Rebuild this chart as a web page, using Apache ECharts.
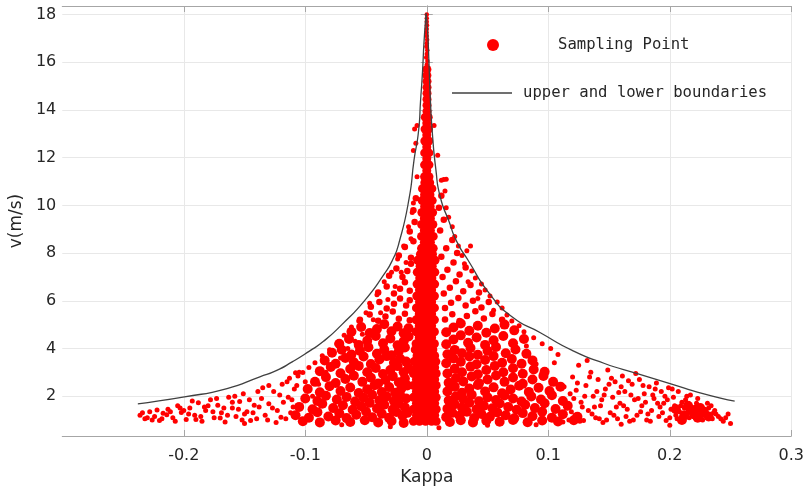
<!DOCTYPE html>
<html>
<head>
<meta charset="utf-8">
<script src="https://cdn.jsdelivr.net/npm/echarts@6/dist/echarts.min.js"></script>
<style>
  html, body { margin: 0; padding: 0; background: #fff; }
  #chart { width: 807px; height: 491px; }
</style>
</head>
<body>
<div id="chart"></div>
<script>
// tick labels
const xTicks = [-0.2, -0.1, 0, 0.1, 0.2, 0.3];
const yTicks = [2, 4, 6, 8, 10, 12, 14, 16, 18];

// boundary curves [kappa, v]
const leftBound = [[-0.2378,1.68],[-0.1994,1.97],[-0.1644,2.32],[-0.1374,2.81],[-0.1239,3.07],[-0.1104,3.45],
  [-0.0969,3.88],[-0.085,4.3],[-0.0699,5.0],[-0.051,6.02],[-0.0348,7.14],[-0.0281,7.72],[-0.023,8.4],
  [-0.0145,10.3],[-0.0105,11.9],[-0.0068,13.1],[-0.0051,14.4],[-0.0035,15.6],[-0.0022,16.9],[-0.0005,18.05]];
const rightBound = [[0.2534,1.79],[0.2273,2.11],[0.2002,2.53],[0.1733,2.95],[0.1463,3.37],[0.1193,3.93],
  [0.0935,4.66],[0.0704,5.32],[0.0516,6.3],[0.034,7.7],[0.0245,8.5],[0.0185,9.3],[0.0111,10.35],
  [0.0075,11.5],[0.0045,13.1],[0.003,14.4],[0.0018,16.0],[0.0008,17.2],[-0.0005,18.05]];

// solid central band of sampling points
const corePoints = [
  [-0.011,0.95],[-0.006,0.95],[-0.001,0.95],[0.004,0.95],[0.0078,0.95],
  [-0.0085,1.2],[-0.0035,1.2],[0.0015,1.2],[0.0065,1.2],
  [-0.011,1.45],[-0.006,1.45],[-0.001,1.45],[0.004,1.45],[0.0078,1.45],
  [-0.0085,1.7],[-0.0035,1.7],[0.0015,1.7],[0.0065,1.7],
  [-0.011,1.95],[-0.006,1.95],[-0.001,1.95],[0.004,1.95],[0.0078,1.95],
  [-0.0085,2.2],[-0.0035,2.2],[0.0015,2.2],[0.0065,2.2],
  [-0.011,2.45],[-0.006,2.45],[-0.001,2.45],[0.004,2.45],[0.0078,2.45],
  [-0.0085,2.7],[-0.0035,2.7],[0.0015,2.7],[0.0065,2.7],
  [-0.011,2.95],[-0.006,2.95],[-0.001,2.95],[0.004,2.95],[0.0078,2.95],
  [-0.0085,3.2],[-0.0035,3.2],[0.0015,3.2],[0.0065,3.2],
  [-0.0105,3.45],[-0.0055,3.45],[-0.0005,3.45],[0.0045,3.45],[0.0075,3.45],
  [-0.008,3.7],[-0.003,3.7],[0.002,3.7],[0.0065,3.7],
  [-0.0095,3.95],[-0.0045,3.95],[0.0005,3.95],[0.005,3.95],
  [-0.0088,4.2],[-0.0035,4.2],[0.0015,4.2],[0.0063,4.2],
  [-0.0062,4.45],[-0.001,4.45],[0.004,4.45],
  [-0.0088,4.7],[-0.0035,4.7],[0.0015,4.7],[0.0063,4.7],
  [-0.0062,4.95],[-0.001,4.95],[0.004,4.95],
  [-0.0088,5.2],[-0.0035,5.2],[0.0015,5.2],[0.0063,5.2],
  [-0.0062,5.45],[-0.001,5.45],[0.004,5.45],
  [-0.0085,5.7],[-0.0035,5.7],[0.0015,5.7],[0.0063,5.7],
  [-0.006,5.95],[-0.001,5.95],[0.004,5.95],
  [-0.0082,6.2],[-0.0032,6.2],[0.0017,6.2],[0.0063,6.2],
  [-0.006,6.45],[-0.001,6.45],[0.004,6.45],
  [-0.008,6.7],[-0.003,6.7],[0.002,6.7],[0.0065,6.7],
  [-0.0058,6.95],[-0.0008,6.95],[0.0042,6.95],
  [-0.0078,7.2],[-0.0028,7.2],[0.002,7.2],[0.0066,7.2],
  [-0.0055,7.45],[-0.0005,7.45],[0.0045,7.45],
  [-0.0075,7.7],[-0.0025,7.7],[0.0022,7.7],[0.0068,7.7],
  [-0.0052,7.95],[-0.0002,7.95],[0.0047,7.95],
  [-0.0043,8.2],[0.0005,8.2],[0.0053,8.2],
  [-0.002,8.45],[0.003,8.45],
  [-0.0043,8.7],[0.0005,8.7],[0.0053,8.7],
  [-0.002,8.95],[0.003,8.95],
  [-0.0042,9.2],[0.0005,9.2],[0.005,9.2],
  [-0.002,9.45],[0.003,9.45],
  [-0.004,9.7],[0.0005,9.7],[0.0048,9.7],
  [-0.0018,9.95],[0.0028,9.95],
  [-0.0038,10.2],[0.0005,10.2],[0.0045,10.2],
  [-0.0018,10.45],[0.0026,10.45],
  [-0.0035,10.7],[0.0005,10.7],[0.0042,10.7],
  [-0.0016,10.95],[0.0024,10.95],
  [-0.0018,11.2],[0.0018,11.2],[0,11.45],[-0.0018,11.7],[0.0018,11.7],[0,11.95],
  [-0.0017,12.2],[0.0017,12.2],[0,12.45],[-0.0016,12.7],[0.0016,12.7],[0,12.95],
  [-0.0014,13.2],[0.0014,13.2],[0,13.45],[-0.0012,13.7],[0.0012,13.7],
  [0.0002,13.95],[0.0002,14.2],[0.0002,14.45],[0.0002,14.7],[0.0002,14.95],
  [0.0002,15.2],[0.0001,15.45],[0.0001,15.7]
];

// thin top of the band
const tipPoints = [
  [0,15.9],[0.0005,16.05],[-0.0005,16.2],[0,16.35],[0.0004,16.5],[-0.0003,16.65],[0,16.8],[0.0003,16.95],
  [0,17.1],[-0.0002,17.25],[0,17.4],[0.0002,17.55],[0,17.7],[0,17.85],[0,18.0]
];

// dense cloud around the band, low speeds
const denseLowPoints = [
  [-0.102,0.95],[-0.088,0.9],[-0.075,0.98],[-0.063,0.92],[-0.051,0.99],[-0.04,0.9],[-0.029,0.96],[-0.019,0.88],
  [0.019,0.92],[0.028,0.99],[0.038,0.9],[0.049,0.97],[0.06,0.93],[0.071,1.0],[0.083,0.91],[0.095,0.98],[0.108,0.94],[0.121,0.99],
  [-0.108,1.2],[-0.097,1.1],[-0.09,1.33],[-0.081,1.15],[-0.072,1.28],[-0.066,1.08],[-0.058,1.22],[-0.05,1.36],
  [-0.045,1.12],[-0.037,1.26],[-0.031,1.09],[-0.025,1.34],[-0.02,1.18],[-0.016,1.3],
  [0.016,1.12],[0.021,1.3],[0.027,1.18],[0.033,1.35],[0.039,1.08],[0.045,1.25],[0.052,1.14],[0.058,1.32],
  [0.065,1.2],[0.072,1.07],[0.079,1.29],[0.087,1.16],[0.095,1.35],[0.103,1.1],[0.112,1.24],[0.124,1.14],
  [-0.105,1.55],[-0.094,1.45],[-0.086,1.68],[-0.077,1.5],[-0.069,1.62],[-0.061,1.43],[-0.054,1.58],
  [-0.047,1.72],[-0.041,1.48],[-0.035,1.64],[-0.028,1.44],[-0.023,1.7],[-0.018,1.53],
  [0.017,1.47],[0.023,1.66],[0.029,1.52],[0.035,1.72],[0.041,1.45],[0.047,1.6],[0.054,1.49],[0.06,1.69],
  [0.067,1.55],[0.074,1.43],[0.081,1.64],[0.089,1.5],[0.097,1.7],[0.106,1.46],[0.116,1.6],
  [-0.1,1.9],[-0.09,1.8],[-0.083,2.02],[-0.074,1.86],[-0.066,1.97],[-0.059,1.78],[-0.052,1.93],
  [-0.045,2.06],[-0.039,1.83],[-0.033,1.99],[-0.027,1.79],[-0.022,2.05],[-0.017,1.9],
  [0.018,1.82],[0.024,2.0],[0.03,1.88],[0.037,2.06],[0.043,1.79],[0.05,1.95],[0.057,1.84],[0.064,2.03],
  [0.071,1.9],[0.078,1.78],[0.086,1.99],[0.094,1.86],[0.103,2.04],[0.112,1.8],
  [-0.098,2.3],[-0.088,2.16],[-0.08,2.42],[-0.071,2.22],[-0.063,2.36],[-0.056,2.13],[-0.049,2.29],
  [-0.043,2.46],[-0.037,2.18],[-0.031,2.38],[-0.026,2.14],[-0.021,2.31],[-0.016,2.45],
  [0.017,2.2],[0.023,2.4],[0.029,2.14],[0.035,2.32],[0.042,2.47],[0.048,2.2],[0.055,2.37],[0.062,2.12],
  [0.069,2.28],[0.076,2.44],[0.084,2.18],[0.092,2.35],[0.101,2.22],[0.11,2.4],
  [-0.092,2.6],[-0.083,2.8],[-0.075,2.55],[-0.067,2.72],[-0.06,2.86],[-0.053,2.6],[-0.046,2.77],
  [-0.04,2.53],[-0.034,2.68],[-0.028,2.84],[-0.023,2.58],[-0.018,2.74],
  [0.018,2.56],[0.024,2.76],[0.03,2.62],[0.037,2.83],[0.043,2.54],[0.05,2.7],[0.057,2.87],[0.064,2.6],
  [0.071,2.78],[0.079,2.52],[0.087,2.7],[0.096,2.85],[0.104,2.6],
  [-0.088,3.05],[-0.079,3.22],[-0.071,2.96],[-0.063,3.14],[-0.056,3.27],[-0.049,3.0],[-0.042,3.18],
  [-0.036,2.93],[-0.03,3.1],[-0.024,3.26],[-0.019,3.0],[-0.015,3.16],
  [0.017,2.95],[0.023,3.15],[0.029,3.0],[0.036,3.24],[0.042,2.92],[0.049,3.1],[0.056,3.27],[0.063,3.0],
  [0.071,3.17],[0.079,2.94],[0.088,3.12],[0.097,3.02],
  [-0.084,3.5],[-0.075,3.36],[-0.067,3.6],[-0.06,3.42],[-0.052,3.66],[-0.046,3.35],[-0.039,3.54],
  [-0.033,3.68],[-0.027,3.4],[-0.022,3.58],[-0.017,3.45],
  [0.016,3.38],[0.022,3.58],[0.028,3.44],[0.035,3.66],[0.041,3.34],[0.048,3.52],[0.055,3.68],[0.062,3.4],
  [0.07,3.56],[0.078,3.36],[0.087,3.5],
  [-0.078,3.82],[-0.07,3.95],[-0.062,3.75],[-0.055,3.9],[-0.048,4.05],[-0.041,3.78],[-0.035,3.96],
  [-0.029,3.72],[-0.023,3.88],[-0.018,4.04],
  [0.017,3.76],[0.023,3.94],[0.029,3.8],[0.036,4.02],[0.042,3.74],[0.05,3.9],[0.057,4.06],[0.065,3.8],
  [0.073,3.96],[0.082,3.78],
  [-0.072,4.2],[-0.064,4.4],[-0.056,4.15],[-0.049,4.32],[-0.042,4.52],[-0.036,4.22],[-0.03,4.42],
  [-0.024,4.14],[-0.019,4.3],[-0.015,4.5],
  [0.016,4.18],[0.022,4.38],[0.028,4.55],[0.034,4.24],[0.041,4.46],[0.048,4.15],[0.055,4.34],[0.063,4.52],
  [0.071,4.22],[0.08,4.4],
  [-0.062,4.7],[-0.054,4.9],[-0.047,4.65],[-0.041,4.82],[-0.035,5.02],[-0.029,4.72],[-0.024,4.92],
  [-0.019,4.64],[-0.015,4.85],
  [0.016,4.68],[0.022,4.88],[0.028,5.05],[0.035,4.74],[0.042,4.95],[0.049,4.66],[0.056,4.84],[0.064,5.0],[0.072,4.76],
  [0.205,1.45],[0.212,1.2],[0.218,1.4],[0.223,1.1],[0.228,1.3],[0.215,1.6],[0.225,1.5],[0.232,1.15],[0.21,1.0],[0.22,1.25]
];

// thinner cloud around the band, higher speeds
const denseHighPoints = [
  [-0.055,5.2],[-0.047,5.42],[-0.04,5.16],[-0.034,5.34],[-0.028,5.55],[-0.023,5.25],[-0.018,5.46],[-0.014,5.18],
  [0.015,5.22],[0.021,5.44],[0.027,5.15],[0.033,5.36],[0.04,5.56],[0.047,5.26],[0.054,5.45],[0.062,5.2],
  [-0.046,5.75],[-0.039,5.95],[-0.033,5.68],[-0.027,5.88],[-0.022,6.1],[-0.017,5.8],[-0.014,6.02],
  [0.015,5.7],[0.02,5.92],[0.026,6.12],[0.032,5.8],[0.038,6.0],[0.045,5.72],[0.051,5.95],
  [-0.04,6.35],[-0.033,6.6],[-0.027,6.3],[-0.022,6.5],[-0.018,6.78],[-0.014,6.42],
  [0.014,6.3],[0.019,6.55],[0.024,6.82],[0.03,6.4],[0.036,6.66],[0.043,6.35],
  [-0.031,7.05],[-0.025,7.35],[-0.02,7.0],[-0.016,7.25],[-0.013,7.55],
  [0.013,7.0],[0.017,7.3],[0.022,7.6],[0.027,7.1],[0.032,7.4],
  [-0.023,7.9],[-0.018,8.25],[-0.013,7.8],[-0.011,8.5],
  [0.012,7.85],[0.016,8.2],[0.021,8.55],[0.025,8.0],
  [-0.014,8.9],[-0.01,9.3],[-0.011,9.8],[-0.009,10.3],
  [0.011,8.95],[0.014,9.4],[0.01,9.9],[0.012,10.4]
];

// scattered points in the wings and near the boundaries
const sparsePoints = [
  [-0.236,1.2],[-0.232,1.05],[-0.228,1.35],[-0.224,1.15],[-0.22,0.98],[-0.217,1.28],[-0.213,1.45],[-0.209,1.1],
  [-0.205,1.6],[-0.202,1.32],[-0.198,1.02],[-0.195,1.5],[-0.191,1.2],[-0.188,1.72],[-0.185,0.95],[-0.182,1.4],
  [-0.178,1.85],[-0.175,1.1],[-0.172,1.62],[-0.169,1.3],[-0.166,0.92],[-0.163,1.95],[-0.16,1.5],[-0.157,1.15],
  [-0.154,1.78],[-0.151,2.1],[-0.148,1.35],[-0.145,0.98],[-0.142,1.62],[-0.139,2.2],[-0.136,1.9],[-0.133,1.2],
  [-0.13,2.45],[-0.127,1.5],[-0.124,0.9],[-0.121,2.05],[-0.118,1.75],[-0.115,2.6],[-0.112,1.3],[-0.109,2.3],
  [-0.106,2.85],[-0.103,1.02],[-0.1,2.6],[-0.108,2.98],[-0.105,3.0],[-0.102,2.99],
  [-0.226,1.0],[-0.214,1.22],[-0.2,1.4],[-0.19,1.02],[-0.18,1.6],[-0.17,1.08],[-0.16,1.75],[-0.15,1.25],
  [-0.14,1.05],[-0.13,1.68],[-0.12,1.12],[-0.114,1.95],[-0.11,1.55],
  [-0.234,1.3],[-0.23,1.1],[-0.222,1.42],[-0.218,1.05],[-0.211,1.35],[-0.207,0.95],[-0.203,1.5],[-0.196,1.25],
  [-0.193,1.8],[-0.186,1.15],[-0.183,1.55],[-0.176,1.35],[-0.173,1.9],[-0.167,1.5],[-0.164,1.2],[-0.158,2.0],
  [-0.155,1.45],[-0.152,1.0],[-0.146,1.85],[-0.143,1.3],[-0.138,1.55],[-0.135,2.35],[-0.131,1.0],[-0.126,2.2],
  [-0.123,1.4],[-0.119,2.5],[-0.116,1.05],[-0.113,2.75],[-0.111,1.85],[-0.107,2.45],
  [-0.097,3.2],[-0.094,2.0],[-0.092,3.4],[-0.089,2.5],[-0.086,3.7],[-0.083,3.0],[-0.08,3.95],[-0.077,3.3],
  [-0.074,4.2],[-0.071,3.6],[-0.068,4.55],[-0.065,4.0],[-0.062,4.9],[-0.059,4.3],[-0.056,5.15],[-0.053,4.6],
  [-0.05,5.5],[-0.047,5.9],[-0.044,5.2],[-0.041,6.25],[-0.038,5.5],[-0.035,6.8],[-0.032,6.05],[-0.029,7.2],
  [-0.026,6.6],[-0.024,7.75],[-0.021,7.2],[-0.019,8.3],[-0.017,7.6],[-0.015,9.1],[-0.013,8.6],[-0.012,9.7],
  [-0.011,10.1],[-0.011,12.3],[-0.009,12.6],[-0.01,13.2],[-0.008,13.35],[-0.008,11.2],
  [0.112,0.92],[0.115,1.5],[0.118,2.1],[0.12,2.8],[0.122,1.2],[0.125,3.3],[0.127,1.75],[0.129,0.98],
  [0.131,2.45],[0.133,1.4],[0.135,3.0],[0.137,2.0],[0.139,1.1],[0.141,2.7],[0.143,1.6],[0.145,0.9],
  [0.147,2.3],[0.149,3.1],[0.151,1.3],[0.153,1.95],[0.155,2.6],[0.157,1.05],[0.159,1.7],[0.161,2.85],
  [0.163,2.2],[0.165,1.45],[0.167,0.95],[0.169,2.5],[0.171,1.85],[0.173,1.2],[0.175,2.7],[0.177,1.6],
  [0.179,2.1],[0.181,1.0],[0.183,2.4],[0.185,1.4],[0.187,1.9],[0.189,2.55],[0.191,1.15],[0.193,2.2],
  [0.195,1.7],[0.197,0.98],[0.199,2.35],[0.201,1.45],[0.203,1.95],[0.205,1.2],[0.207,2.2],[0.209,1.6],
  [0.211,1.05],[0.213,1.85],[0.215,1.35],[0.217,2.05],[0.219,1.15],[0.221,1.55],[0.223,1.9],[0.225,1.25],
  [0.227,1.0],[0.229,1.45],[0.231,1.7],[0.233,1.2],[0.235,1.05],[0.237,1.4],[0.24,1.15],[0.244,0.95],[0.248,1.25],
  [0.113,2.4],[0.117,1.0],[0.121,1.9],[0.124,2.55],[0.128,1.55],[0.132,3.5],[0.136,1.25],[0.14,2.2],
  [0.144,1.85],[0.148,1.0],[0.152,2.75],[0.156,1.55],[0.16,2.4],[0.164,1.15],[0.168,2.05],[0.172,2.95],
  [0.176,1.35],[0.18,1.75],[0.184,0.95],[0.188,2.3],[0.192,1.55],[0.196,2.0],[0.2,1.1],[0.204,1.6],
  [0.208,1.35],[0.212,1.5],[0.216,1.1],[0.22,1.3],[0.224,1.45],[0.228,1.3],[0.232,1.5],[0.236,1.3],
  [0.114,1.75],[0.119,1.35],[0.123,2.25],[0.126,0.95],[0.13,2.0],[0.134,2.8],[0.138,1.55],[0.142,1.05],
  [0.146,2.05],[0.15,2.5],[0.154,1.2],[0.158,2.15],[0.162,1.6],[0.166,2.65],[0.17,1.0],[0.174,1.9],
  [0.178,2.45],[0.182,1.25],[0.186,2.05],[0.19,1.7],[0.194,1.3],[0.198,1.85],[0.202,2.3],[0.206,1.05],
  [0.21,1.75],[0.214,2.0],[0.218,1.55],[0.222,1.7],[0.226,1.15],[0.23,1.35],[0.234,1.6],[0.238,1.25],
  [0.242,1.05],[0.246,1.1],
  [0.105,3.4],[0.108,3.75],[0.102,4.0],[0.095,4.2],[0.09,3.35],[0.088,4.45],[0.082,4.1],[0.08,4.7],
  [0.076,4.95],[0.07,5.15],[0.066,5.4],[0.062,5.7],[0.058,5.95],[0.055,5.6],[0.052,6.2],[0.048,6.45],
  [0.045,6.7],[0.042,6.1],[0.04,6.95],[0.037,7.25],[0.034,6.8],[0.031,7.55],[0.029,7.9],[0.026,8.3],
  [0.023,8.7],[0.021,9.1],[0.018,9.5],[0.016,9.9],[0.015,10.6],[0.012,11.05],[0.014,11.08],[0.016,11.1],
  [0.033,8.1],[0.036,8.3],[0.009,12.1],[0.006,13.35],
  [-0.03,0.72],[0.01,0.68],[0.05,0.78],[0.09,0.8],[0.16,0.82],[0.2,0.78],[0.25,0.85],[-0.07,0.8],[-0.15,0.85]
];

const chart = echarts.init(document.getElementById('chart'), null, { renderer: 'canvas' });

const axisLineStyle = { color: '#a6a6a6', width: 1 };
const labelStyle = { fontFamily: 'DejaVu Sans', fontSize: 16, color: '#262626' };
const dotStyle = { color: '#ff0000', opacity: 1 };
const boundStyle = { color: '#404040', width: 1.3 };

chart.setOption({
  animation: false,
  backgroundColor: '#fff',
  grid: { left: 53, right: 14, top: 6, bottom: 55 },
  legend: [{
    data: [{ name: 'Sampling Point', icon: 'circle' }],
    left: 482, top: 32,
    itemWidth: 12, itemHeight: 12,
    selectedMode: false,
    itemStyle: { color: '#ff0000', opacity: 1 },
    textStyle: { fontFamily: 'DejaVu Sans Mono', fontSize: 15.6, color: '#262626', padding: [0, 0, 0, 54] }
  }, {
    data: [{ name: 'upper and lower boundaries', icon: 'rect' }],
    left: 447, top: 80,
    itemWidth: 60, itemHeight: 1.4,
    selectedMode: false,
    itemStyle: { color: '#404040' },
    textStyle: { fontFamily: 'DejaVu Sans Mono', fontSize: 15.6, color: '#262626', padding: [0, 0, 0, 6] }
  }],
  xAxis: [{
    type: 'value', min: -0.3, max: 0.3, position: 'bottom',
    name: 'Kappa', nameLocation: 'middle', nameGap: 33,
    nameTextStyle: { fontFamily: 'DejaVu Sans', fontSize: 17, color: '#262626' },
    axisLine: { show: true, lineStyle: axisLineStyle },
    axisTick: { show: true, inside: true, length: 6, customValues: xTicks, lineStyle: axisLineStyle },
    axisLabel: Object.assign({ margin: 12, customValues: xTicks }, labelStyle),
    splitLine: { show: true, lineStyle: { color: '#e8e8e8', width: 1 } }
  }, {
    type: 'value', min: -0.3, max: 0.3, position: 'top',
    axisLine: { show: true, lineStyle: axisLineStyle },
    axisTick: { show: true, inside: true, length: 6, customValues: xTicks, lineStyle: axisLineStyle },
    axisLabel: { show: false },
    splitLine: { show: false }
  }],
  yAxis: [{
    type: 'value', min: 0.33, max: 18.36, position: 'left',
    name: 'v(m/s)', nameLocation: 'middle', nameGap: 31,
    nameTextStyle: { fontFamily: 'DejaVu Sans', fontSize: 17, color: '#262626' },
    axisLine: { show: true, lineStyle: axisLineStyle },
    axisTick: { show: true, inside: true, length: 6, customValues: yTicks, lineStyle: axisLineStyle },
    axisLabel: Object.assign({ margin: 6, customValues: yTicks }, labelStyle),
    splitLine: { show: true, lineStyle: { color: '#e8e8e8', width: 1 } }
  }, {
    type: 'value', min: 0.33, max: 18.36, position: 'right',
    axisLine: { show: true, lineStyle: axisLineStyle },
    axisTick: { show: true, inside: true, length: 6, customValues: yTicks, lineStyle: axisLineStyle },
    axisLabel: { show: false },
    splitLine: { show: false }
  }],
  series: [{
    name: 'Sampling Point', type: 'scatter', symbol: 'circle', symbolSize: 5,
    itemStyle: dotStyle, data: sparsePoints, z: 2
  }, {
    name: 'Sampling Point', type: 'scatter', symbol: 'circle', symbolSize: 10,
    itemStyle: dotStyle, data: denseLowPoints, z: 2
  }, {
    name: 'Sampling Point', type: 'scatter', symbol: 'circle', symbolSize: 6.5,
    itemStyle: dotStyle, data: denseHighPoints, z: 2
  }, {
    name: 'Sampling Point', type: 'scatter', symbol: 'circle', symbolSize: 9,
    itemStyle: dotStyle, data: corePoints, z: 2
  }, {
    name: 'Sampling Point', type: 'scatter', symbol: 'circle', symbolSize: 4.5,
    itemStyle: dotStyle, data: tipPoints, z: 2
  }, {
    name: 'upper and lower boundaries', type: 'line', data: leftBound,
    symbol: 'none', smooth: 0.6, z: 3,
    lineStyle: boundStyle, itemStyle: { color: '#404040' }
  }, {
    name: 'upper and lower boundaries', type: 'line', data: rightBound,
    symbol: 'none', smooth: 0.6, z: 3,
    lineStyle: boundStyle, itemStyle: { color: '#404040' }
  }]
});
</script>
</body>
</html>
